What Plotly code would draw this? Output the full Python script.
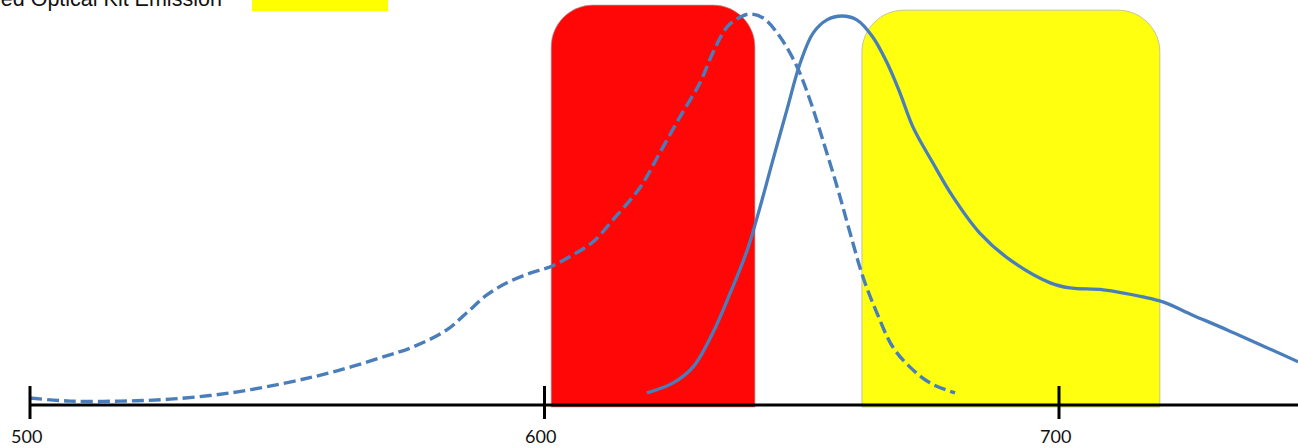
import plotly.graph_objects as go

# ---------------- data ----------------
exc_nm = [500.0, 507.8, 517.5, 527.2, 538.9, 550.5, 558.9, 568.0, 574.4, 581.0,
          584.9, 588.8, 592.7, 597.2, 601.1, 605.5, 609.4, 613.3, 618.6, 622.4,
          626.3, 630.2, 632.7, 635.5, 638.0, 639.9, 642.5, 645.8, 649.1, 651.6,
          654.1, 656.9, 659.4, 661.9, 664.6, 667.7, 671.0, 674.9, 679.8]
exc_val = [1.8, 1.0, 1.0, 1.5, 3.1, 5.9, 8.5, 12.1, 14.9, 19.3,
           23.7, 28.3, 31.4, 33.9, 35.5, 38.6, 41.9, 47.6, 56.0, 64.8,
           74.0, 82.8, 90.5, 97.2, 99.7, 100.5, 99.5, 94.6, 86.9, 78.4,
           68.1, 56.0, 44.2, 32.9, 23.7, 14.9, 9.8, 5.7, 3.1]

em_nm = [619.9, 625.0, 628.9, 632.7, 636.1, 639.4, 641.9, 644.4, 647.1, 649.7,
         652.2, 654.9, 657.8, 660.7, 663.8, 666.6, 669.1, 671.6, 675.5, 679.4,
         684.6, 690.5, 698.3, 702.1, 708.6, 716.3, 720.2, 726.0, 732.7, 746.5]
em_val = [3.1, 5.7, 9.8, 18.5, 28.8, 39.8, 50.9, 63.0, 75.8, 87.9,
          95.6, 99.0, 100.0, 99.0, 94.6, 87.9, 80.2, 71.5, 62.2, 53.5,
          44.2, 37.3, 31.4, 30.1, 29.6, 27.8, 26.5, 23.1, 19.3, 11.1]

tick_vals = [500, 600, 700]
tick_labels = ["500", "600", "700"]

filter_names = ["Excitation filter", "Emission filter"]
filter_start = [601.3, 661.7]
filter_end = [640.9, 719.6]
filter_top = [102.8, 101.5]

legend_text = "Filtered Optical Kit Emission"

# ---------------- styles / geometry ----------------
W, H = 1298, 448
PX_PER_NM = 5.145
PX_PER_UNIT = 3.89
X0_PX = 30          # pixel of 500 nm
AXIS_PX = 405       # pixel row of zero intensity
x_range = [500 - X0_PX / PX_PER_NM, 500 + (W - X0_PX) / PX_PER_NM]
y_range = [-(H - AXIS_PX) / PX_PER_UNIT, AXIS_PX / PX_PER_UNIT]

filter_fill = ["#FF0707", "#FFFF10"]
filter_edge = ["rgba(170,150,150,0.7)", "rgba(190,190,150,0.9)"]
line_color = "#4A7EBB"
corner_px = 42

fig = go.Figure()

fig.add_trace(go.Scatter(x=exc_nm, y=exc_val, mode="lines", name="Excitation",
                         line=dict(color=line_color, width=3.4, dash="12px,5px",
                                   shape="spline", smoothing=1.0),
                         hoverinfo="skip"))
fig.add_trace(go.Scatter(x=em_nm, y=em_val, mode="lines", name="Emission",
                         line=dict(color=line_color, width=3.3,
                                   shape="spline", smoothing=1.0),
                         hoverinfo="skip"))

# rounded-top filter bands
rx = corner_px / PX_PER_NM
ry = corner_px / PX_PER_UNIT
k = 0.5523
for x0, x1, yt, fc, ec in zip(filter_start, filter_end, filter_top, filter_fill, filter_edge):
    yb = -0.5
    path = (f"M {x0},{yb} L {x0},{yt-ry} "
            f"C {x0},{yt-ry+k*ry} {x0+rx-k*rx},{yt} {x0+rx},{yt} "
            f"L {x1-rx},{yt} "
            f"C {x1-rx+k*rx},{yt} {x1},{yt-ry+k*ry} {x1},{yt-ry} "
            f"L {x1},{yb} Z")
    fig.add_shape(type="path", path=path, xref="x", yref="y",
                  fillcolor=fc, line=dict(color=ec, width=1), layer="below")

# baseline axis
fig.add_shape(type="line", xref="x", yref="y", x0=tick_vals[0], x1=x_range[1],
              y0=0, y1=0, line=dict(color="black", width=3.2), layer="above")
# ticks straddling axis
for tv, tl in zip(tick_vals, tick_labels):
    fig.add_shape(type="line", xref="x", yref="y", x0=tv, x1=tv,
                  y0=19 / PX_PER_UNIT, y1=-14 / PX_PER_UNIT,
                  line=dict(color="black", width=3), layer="above")
    fig.add_annotation(x=tv, y=0, xref="x", yref="y", text=tl, showarrow=False,
                       xanchor="center", yanchor="middle", xshift=-4, yshift=-31,
                       font=dict(family="Lato, Carlito, sans-serif", size=18, color="#111111"))

# partial legend at top (cropped in the original)
fig.add_annotation(x=223 / W, y=1, xref="paper", yref="paper", text=legend_text,
                   showarrow=False, xanchor="right", yanchor="bottom", yshift=-12,
                   borderpad=0,
                   font=dict(family="Liberation Sans, Arial, sans-serif", size=21.5, color="#111111"))
fig.add_shape(type="rect", xref="paper", yref="paper", x0=252 / W, x1=388 / W,
              y0=1 - 11 / H, y1=1.02, fillcolor="#FFFF00", line=dict(width=0))

fig.update_layout(
    width=W, height=H,
    margin=dict(l=0, r=0, t=0, b=0),
    paper_bgcolor="white", plot_bgcolor="white",
    showlegend=False,
    xaxis=dict(range=x_range, visible=False, fixedrange=True),
    yaxis=dict(range=y_range, visible=False, fixedrange=True),
)

fig.write_html("out.html", config={"displayModeBar": False},
               post_script="document.body.style.margin='0';")
